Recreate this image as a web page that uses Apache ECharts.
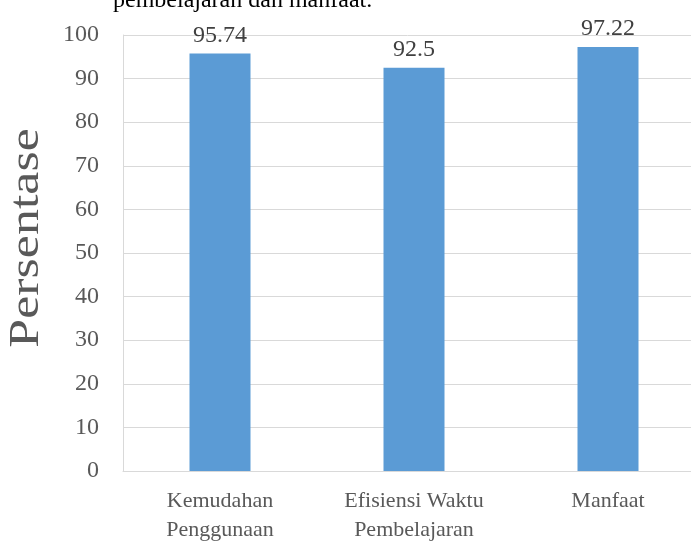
<!DOCTYPE html>
<html><head><meta charset="utf-8">
<script src="https://cdn.jsdelivr.net/npm/echarts@6/dist/echarts.min.js"></script>
<style>html,body{margin:0;padding:0;background:#fff}#c{width:691px;height:542px}</style>
</head><body><div id="c"></div>
<script>
const categories = ["Kemudahan\nPenggunaan", "Efisiensi Waktu\nPembelajaran", "Manfaat"];
const values = [95.74, 92.5, 97.22];
const yTicks = [0, 10, 20, 30, 40, 50, 60, 70, 80, 90, 100];
const yName = "Persentase";
const captionText = "pembelajaran dan manfaat.";

const chart = echarts.init(document.getElementById('c'), null, {renderer: 'canvas'});
const serif = '"Liberation Serif", "DejaVu Serif", serif';
chart.setOption({
  animation: false,
  graphic: [{
    type: 'text', left: 113, top: -11,
    style: {text: captionText, font: '24px ' + serif, fill: '#000'}
  }, {
    type: 'text', x: 27, y: 238, rotation: Math.PI / 2, scaleY: 0.8,
    style: {text: yName, font: '52px ' + serif, fill: '#595959', align: 'center', verticalAlign: 'middle'}
  }],
  grid: {left: 123, width: 582, top: 35, bottom: 71, outerBoundsMode: 'none', containLabel: false},
  xAxis: {
    type: 'category', data: categories,
    axisLine: {lineStyle: {color: '#d9d9d9', width: 1}},
    axisTick: {show: false},
    axisLabel: {fontFamily: serif, fontSize: 22, color: '#595959', margin: 16, lineHeight: 29, interval: 0}
  },
  yAxis: {
    type: 'value', min: yTicks[0], max: yTicks[yTicks.length - 1], interval: 10,
    axisLine: {show: true, lineStyle: {color: '#d9d9d9', width: 1}},
    axisTick: {show: false},
    splitLine: {lineStyle: {color: '#d9d9d9', width: 1}},
    axisLabel: {fontFamily: serif, fontSize: 24, color: '#595959', margin: 24}
  },
  series: [{
    type: 'bar', data: values, barWidth: 61,
    itemStyle: {color: '#5b9bd5'},
    label: {show: true, position: 'top', distance: 6, fontFamily: serif, fontSize: 24, color: '#404040'}
  }]
});
</script></body></html>
